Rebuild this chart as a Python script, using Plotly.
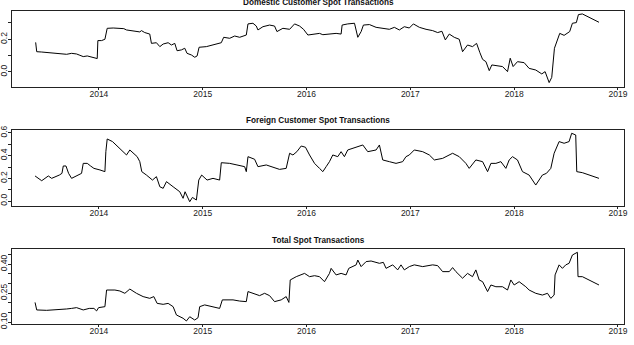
import plotly.graph_objects as go

# ---------------- data (decimal years) -------------
dom_t = [2013.391, 2013.401, 2013.449, 2013.513, 2013.577, 2013.641, 2013.689, 2013.737, 2013.785, 2013.817,
         2013.849, 2013.888, 2013.929, 2013.971, 2013.984, 2013.990, 2014.026, 2014.058, 2014.080, 2014.138,
         2014.202, 2014.240, 2014.266, 2014.314, 2014.362, 2014.394, 2014.410, 2014.442, 2014.490, 2014.506,
         2014.554, 2014.587, 2014.619, 2014.667, 2014.699, 2014.731, 2014.753, 2014.795, 2014.827, 2014.849,
         2014.891, 2014.923, 2014.946, 2014.965, 2015.035, 2015.115, 2015.179, 2015.202, 2015.260, 2015.308,
         2015.356, 2015.420, 2015.436, 2015.484, 2015.516, 2015.532, 2015.580, 2015.644, 2015.692, 2015.715,
         2015.772, 2015.837, 2015.885, 2015.933, 2015.971, 2016.013, 2016.061, 2016.125, 2016.157, 2016.221,
         2016.285, 2016.333, 2016.343, 2016.397, 2016.462, 2016.494, 2016.526, 2016.548, 2016.606, 2016.670,
         2016.734, 2016.798, 2016.846, 2016.894, 2016.942, 2016.990, 2017.029, 2017.087, 2017.151, 2017.215,
         2017.263, 2017.304, 2017.337, 2017.375, 2017.423, 2017.471, 2017.503, 2017.551, 2017.599, 2017.638,
         2017.670, 2017.696, 2017.728, 2017.760, 2017.785, 2017.840, 2017.888, 2017.936, 2017.962, 2017.990,
         2018.032, 2018.096, 2018.144, 2018.208, 2018.266, 2018.298, 2018.337, 2018.362, 2018.388, 2018.439,
         2018.481, 2018.535, 2018.561, 2018.599, 2018.619, 2018.657, 2018.721, 2018.817]
dom_v = [0.181, 0.124, 0.122, 0.118, 0.114, 0.110, 0.108, 0.114, 0.110, 0.102,
         0.094, 0.098, 0.090, 0.086, 0.082, 0.192, 0.192, 0.200, 0.267, 0.269,
         0.269, 0.265, 0.257, 0.253, 0.251, 0.245, 0.253, 0.241, 0.232, 0.175,
         0.179, 0.155, 0.171, 0.179, 0.165, 0.175, 0.130, 0.135, 0.145, 0.114,
         0.104, 0.090, 0.098, 0.151, 0.155, 0.171, 0.179, 0.212, 0.206, 0.220,
         0.212, 0.226, 0.294, 0.298, 0.281, 0.257, 0.277, 0.287, 0.281, 0.247,
         0.267, 0.261, 0.294, 0.281, 0.261, 0.226, 0.232, 0.236, 0.228, 0.232,
         0.236, 0.232, 0.287, 0.294, 0.298, 0.212, 0.247, 0.287, 0.290, 0.273,
         0.267, 0.261, 0.273, 0.257, 0.277, 0.269, 0.294, 0.273, 0.261, 0.253,
         0.241, 0.249, 0.196, 0.232, 0.212, 0.200, 0.124, 0.165, 0.155, 0.175,
         0.118, 0.077, 0.063, 0.008, 0.043, 0.037, 0.033, 0.002, 0.084, 0.033,
         0.063, 0.057, 0.022, 0.012, -0.012, 0.002, -0.065, -0.033, 0.145, 0.236,
         0.224, 0.247, 0.298, 0.302, 0.351, 0.355, 0.334, 0.304]

for_t = [2013.385, 2013.417, 2013.449, 2013.481, 2013.513, 2013.545, 2013.587, 2013.619, 2013.644, 2013.657,
         2013.683, 2013.708, 2013.737, 2013.779, 2013.833, 2013.849, 2013.888, 2013.920, 2013.952, 2014.010,
         2014.058, 2014.067, 2014.080, 2014.131, 2014.186, 2014.234, 2014.266, 2014.298, 2014.337, 2014.369,
         2014.394, 2014.413, 2014.458, 2014.516, 2014.554, 2014.587, 2014.619, 2014.651, 2014.715, 2014.779,
         2014.811, 2014.830, 2014.875, 2014.901, 2014.939, 2014.962, 2014.990, 2015.042, 2015.099, 2015.163,
         2015.179, 2015.260, 2015.330, 2015.404, 2015.420, 2015.436, 2015.500, 2015.532, 2015.612, 2015.676,
         2015.740, 2015.804, 2015.837, 2015.869, 2015.907, 2015.949, 2015.990, 2016.029, 2016.077, 2016.125,
         2016.157, 2016.189, 2016.221, 2016.253, 2016.301, 2016.333, 2016.365, 2016.397, 2016.446, 2016.542,
         2016.590, 2016.670, 2016.702, 2016.734, 2016.798, 2016.862, 2016.926, 2016.958, 2016.990, 2017.038,
         2017.119, 2017.183, 2017.231, 2017.311, 2017.407, 2017.471, 2017.535, 2017.567, 2017.631, 2017.696,
         2017.744, 2017.776, 2017.824, 2017.872, 2017.920, 2017.952, 2017.984, 2018.032, 2018.080, 2018.144,
         2018.208, 2018.240, 2018.272, 2018.311, 2018.353, 2018.385, 2018.433, 2018.481, 2018.529, 2018.554,
         2018.593, 2018.603, 2018.657, 2018.817]
for_v = [0.221, 0.200, 0.179, 0.200, 0.221, 0.200, 0.215, 0.229, 0.244, 0.309,
         0.309, 0.244, 0.200, 0.221, 0.244, 0.332, 0.332, 0.309, 0.288, 0.274,
         0.259, 0.435, 0.547, 0.524, 0.479, 0.435, 0.406, 0.450, 0.421, 0.391,
         0.347, 0.259, 0.229, 0.185, 0.215, 0.126, 0.112, 0.171, 0.126, 0.082,
         0.024, 0.082, -0.006, 0.032, 0.009, 0.185, 0.229, 0.185, 0.200, 0.185,
         0.338, 0.332, 0.318, 0.303, 0.259, 0.391, 0.368, 0.303, 0.318, 0.297,
         0.279, 0.288, 0.421, 0.406, 0.435, 0.485, 0.474, 0.406, 0.332, 0.288,
         0.259, 0.303, 0.347, 0.406, 0.391, 0.435, 0.391, 0.450, 0.465, 0.494,
         0.435, 0.450, 0.494, 0.362, 0.347, 0.332, 0.347, 0.391, 0.406, 0.450,
         0.435, 0.406, 0.362, 0.376, 0.421, 0.391, 0.332, 0.288, 0.362, 0.347,
         0.259, 0.332, 0.332, 0.347, 0.288, 0.362, 0.391, 0.362, 0.259, 0.229,
         0.141, 0.185, 0.229, 0.244, 0.288, 0.421, 0.524, 0.509, 0.524, 0.597,
         0.582, 0.259, 0.250, 0.200]

tot_t = [2013.385, 2013.401, 2013.497, 2013.593, 2013.689, 2013.737, 2013.785, 2013.849, 2013.907, 2013.952,
         2013.978, 2013.997, 2014.058, 2014.074, 2014.154, 2014.202, 2014.250, 2014.298, 2014.362, 2014.426,
         2014.490, 2014.529, 2014.561, 2014.619, 2014.667, 2014.715, 2014.747, 2014.811, 2014.843, 2014.875,
         2014.923, 2014.955, 2014.971, 2015.019, 2015.099, 2015.163, 2015.189, 2015.292, 2015.356, 2015.420,
         2015.436, 2015.484, 2015.548, 2015.596, 2015.644, 2015.692, 2015.756, 2015.804, 2015.830, 2015.843,
         2015.901, 2015.981, 2016.029, 2016.077, 2016.125, 2016.173, 2016.221, 2016.237, 2016.285, 2016.333,
         2016.381, 2016.407, 2016.478, 2016.494, 2016.526, 2016.574, 2016.622, 2016.702, 2016.740, 2016.766,
         2016.830, 2016.878, 2016.910, 2016.942, 2016.990, 2017.038, 2017.119, 2017.215, 2017.263, 2017.311,
         2017.375, 2017.407, 2017.439, 2017.503, 2017.551, 2017.599, 2017.631, 2017.663, 2017.696, 2017.744,
         2017.776, 2017.824, 2017.888, 2017.936, 2017.968, 2018.000, 2018.048, 2018.112, 2018.144, 2018.208,
         2018.272, 2018.321, 2018.353, 2018.385, 2018.394, 2018.433, 2018.465, 2018.497, 2018.529, 2018.561,
         2018.593, 2018.609, 2018.615, 2018.657, 2018.817]
tot_v = [0.203, 0.164, 0.162, 0.164, 0.169, 0.172, 0.176, 0.164, 0.172, 0.172,
         0.159, 0.176, 0.181, 0.267, 0.267, 0.262, 0.250, 0.272, 0.250, 0.233,
         0.224, 0.233, 0.198, 0.193, 0.198, 0.181, 0.138, 0.121, 0.107, 0.129,
         0.112, 0.124, 0.181, 0.190, 0.179, 0.172, 0.216, 0.216, 0.210, 0.207,
         0.259, 0.250, 0.238, 0.250, 0.238, 0.207, 0.216, 0.233, 0.203, 0.319,
         0.336, 0.353, 0.336, 0.341, 0.336, 0.310, 0.353, 0.379, 0.345, 0.353,
         0.345, 0.379, 0.397, 0.422, 0.388, 0.414, 0.417, 0.405, 0.410, 0.379,
         0.397, 0.371, 0.397, 0.371, 0.388, 0.397, 0.388, 0.397, 0.393, 0.362,
         0.362, 0.383, 0.362, 0.328, 0.353, 0.336, 0.371, 0.319, 0.310, 0.259,
         0.293, 0.284, 0.284, 0.267, 0.319, 0.293, 0.310, 0.284, 0.267, 0.250,
         0.241, 0.250, 0.224, 0.241, 0.345, 0.397, 0.379, 0.397, 0.405, 0.448,
         0.457, 0.462, 0.336, 0.336, 0.293]

titles = ["Domestic Customer Spot Transactions",
          "Foreign Customer Spot Transactions",
          "Total Spot Transactions"]

x_ticks = [2014, 2015, 2016, 2017, 2018, 2019]
y_ticks = [[0.0, 0.1, 0.2, 0.3],
           [0.0, 0.1, 0.2, 0.3, 0.4, 0.5, 0.6],
           [0.10, 0.15, 0.20, 0.25, 0.30, 0.35, 0.40, 0.45]]
y_labels = [["0.0", "", "0.2", ""],
            ["0.0", "", "0.2", "", "0.4", "", "0.6"],
            ["0.10", "", "", "0.25", "", "", "0.40", ""]]

# ---------------- layout geometry ----------------
W, H = 634, 345
x_dom = [12 / W, 624 / W]
boxes = [(11, 87), (130, 205.7), (249, 324)]           # pixel top/bottom of each panel
title_y = [2.7, 120.7, 240.0]                          # pixel centre of each title
y_ranges = [[-0.092, 0.373], [-0.041, 0.626], [0.0914, 0.479]]
x_range = [2013.163, 2019.058]

series = [(dom_t, dom_v), (for_t, for_v), (tot_t, tot_v)]

fig = go.Figure()
font_fam = "Liberation Sans, Arial, Helvetica, sans-serif"
layout = dict(width=W, height=H, margin=dict(l=0, r=0, t=0, b=0, autoexpand=False),
              paper_bgcolor="white", plot_bgcolor="white", showlegend=False,
              font=dict(family=font_fam, size=8.5, color="#222"))
annotations = []
for i, ((t, v), (top, bot)) in enumerate(zip(series, boxes)):
    n = "" if i == 0 else str(i + 1)
    fig.add_trace(go.Scatter(x=t, y=v, mode="lines",
                             line=dict(color="black", width=1),
                             xaxis="x" + n, yaxis="y" + n, hoverinfo="skip"))
    layout["xaxis" + n] = dict(domain=x_dom, range=x_range, anchor="y" + n,
                               tickvals=x_ticks, ticktext=[str(x) for x in x_ticks],
                               ticks="outside", ticklen=2, tickcolor="#222",
                               ticklabelstandoff=-3,
                               showline=True, mirror=True, linecolor="#222", linewidth=1,
                               showgrid=False, zeroline=False,
                               tickfont=dict(size=8.5, color="#222"))
    layout["yaxis" + n] = dict(domain=[1 - bot / H, 1 - top / H], range=y_ranges[i],
                               anchor="x" + n, tickvals=y_ticks[i], ticktext=y_labels[i],
                               ticks="outside", ticklen=3, tickcolor="#222", tickangle=-90,
                               ticklabelstandoff=-2,
                               showline=True, mirror=True, linecolor="#222", linewidth=1,
                               showgrid=False, zeroline=False,
                               tickfont=dict(size=8.5, color="#222"))
    annotations.append(dict(text="<b>" + titles[i] + "</b>", xref="paper", yref="paper",
                            x=(x_dom[0] + x_dom[1]) / 2, y=1 - title_y[i] / H,
                            xanchor="center", yanchor="middle", showarrow=False,
                            font=dict(size=8.2, color="#111")))
layout["annotations"] = annotations
fig.update_layout(**layout)
fig.write_html("out.html")
